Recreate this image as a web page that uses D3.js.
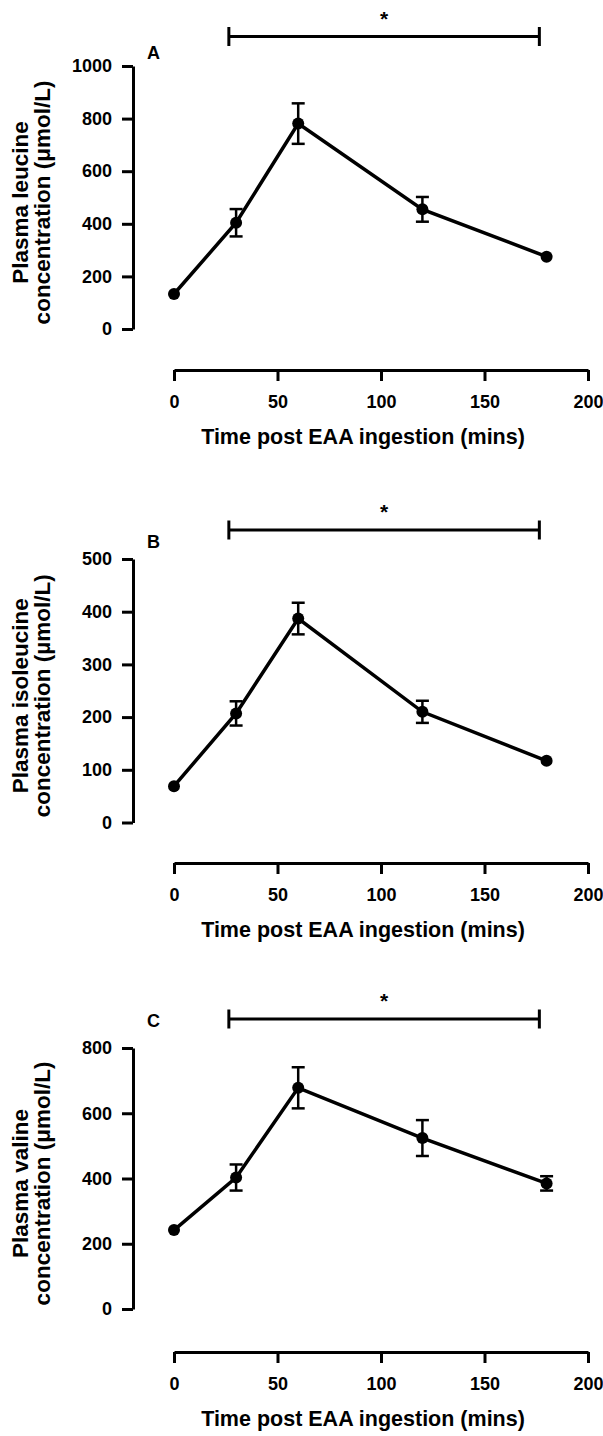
<!DOCTYPE html>
<html>
<head>
<meta charset="utf-8">
<script src="https://cdn.jsdelivr.net/npm/d3@7"></script>
<style>
  html, body { margin: 0; padding: 0; background: #fff; }
  svg { display: block; }
  text { font-family: "Liberation Sans", Arial, sans-serif; font-weight: bold; fill: #000; }
</style>
</head>
<body>
<svg id="chart" width="603" height="1436"></svg>
<script>
// ---------- data ----------
const times = [0, 30, 60, 120, 180];
const xTicks = [0, 50, 100, 150, 200];

const leucineMean = [133, 404, 781, 455, 275];
const leucineSem  = [0, 52, 77, 47, 0];
const leucineTicks = [0, 200, 400, 600, 800, 1000];

const isoleucineMean = [69, 207, 387, 210, 117];
const isoleucineSem  = [0, 23, 30, 21, 0];
const isoleucineTicks = [0, 100, 200, 300, 400, 500];

const valineMean = [242, 403, 678, 524, 385];
const valineSem  = [0, 40, 63, 55, 22];
const valineTicks = [0, 200, 400, 600, 800];

const panelLetters = ["A", "B", "C"];
const yLabelLine1 = ["Plasma leucine", "Plasma isoleucine", "Plasma valine"];
const yLabelLine2 = ["concentration (\u03bcmol/L)", "concentration (\u00b5mol/L)", "concentration (\u03bcmol/L)"];
const xTitle = "Time post EAA ingestion (mins)";
const sigSpan = [26.5, 176.5];   // time span covered by significance bar
const sigMark = "*";

// ---------- layout ----------
const layout = [
  { top: 66,  zero: 329,   xAxisY: 370,  sigY: 36.5, letterY: 59 },
  { top: 559, zero: 822.5, xAxisY: 863,  sigY: 530,  letterY: 548 },
  { top: 1048, zero: 1309, xAxisY: 1352, sigY: 1019, letterY: 1027 }
];
const panels = [
  { mean: leucineMean, sem: leucineSem, ticks: leucineTicks },
  { mean: isoleucineMean, sem: isoleucineSem, ticks: isoleucineTicks },
  { mean: valineMean, sem: valineSem, ticks: valineTicks }
];

const svg = d3.select("#chart");
const x = d3.scaleLinear().domain([0, 200]).range([174, 588]);
const yAxisX = 133;
const FONT = "'Liberation Sans', Arial, sans-serif";

panels.forEach((p, i) => {
  const L = layout[i];
  const g = svg.append("g");
  const yMax = p.ticks[p.ticks.length - 1];
  const y = d3.scaleLinear().domain([0, yMax]).range([L.zero, L.top]);

  // y axis
  const yAx = g.append("g").attr("transform", `translate(${yAxisX},0)`)
    .call(d3.axisLeft(y).tickValues(p.ticks).tickFormat(d3.format("d"))
      .tickSize(11).tickSizeOuter(0).tickPadding(10));
  yAx.selectAll("path.domain").attr("stroke", "#000").attr("stroke-width", 3);
  yAx.selectAll(".tick line").attr("stroke", "#000").attr("stroke-width", 3);
  yAx.selectAll(".tick text").style("font-size", "18px").style("font-weight", "bold")
    .style("font-family", FONT);

  // x axis
  const xAx = g.append("g").attr("transform", `translate(0,${L.xAxisY})`)
    .call(d3.axisBottom(x).tickValues(xTicks).tickFormat(d3.format("d"))
      .tickSize(11).tickSizeOuter(0).tickPadding(14));
  xAx.selectAll("path.domain").attr("stroke", "#000").attr("stroke-width", 3);
  xAx.selectAll(".tick line").attr("stroke", "#000").attr("stroke-width", 3);
  xAx.selectAll(".tick text").style("font-size", "18px").style("font-weight", "bold")
    .style("font-family", FONT);

  // x title
  g.append("text").attr("x", 363).attr("y", L.xAxisY + 74)
    .attr("text-anchor", "middle").style("font-size", "21.5px").text(xTitle);

  // y title (two lines)
  const yc = (L.zero + L.top) / 2 + 5;
  g.append("text").attr("transform", `translate(28,${yc}) rotate(-90)`)
    .attr("text-anchor", "middle").style("font-size", "22.5px").text(yLabelLine1[i]);
  g.append("text").attr("transform", `translate(50,${yc}) rotate(-90)`)
    .attr("text-anchor", "middle").style("font-size", "22.5px").text(yLabelLine2[i]);

  // panel letter
  g.append("text").attr("x", 147).attr("y", L.letterY).style("font-size", "18px").text(panelLetters[i]);

  // significance bar
  const sx0 = x(sigSpan[0]), sx1 = x(sigSpan[1]);
  g.append("line").attr("x1", sx0).attr("x2", sx1).attr("y1", L.sigY).attr("y2", L.sigY)
    .attr("stroke", "#000").attr("stroke-width", 3);
  [sx0, sx1].forEach(sx => g.append("line").attr("x1", sx).attr("x2", sx)
    .attr("y1", L.sigY - 9.5).attr("y2", L.sigY + 9.5).attr("stroke", "#000").attr("stroke-width", 3));
  g.append("text").attr("x", (sx0 + sx1) / 2).attr("y", L.sigY - 11)
    .attr("text-anchor", "middle").style("font-size", "21px").text(sigMark);

  const pts = times.map((t, k) => ({ t, m: p.mean[k], s: p.sem[k] }));

  // error bars
  pts.filter(d => d.s > 0).forEach(d => {
    const cx = x(d.t);
    g.append("line").attr("x1", cx).attr("x2", cx).attr("y1", y(d.m + d.s)).attr("y2", y(d.m - d.s))
      .attr("stroke", "#000").attr("stroke-width", 2.5);
    [d.m + d.s, d.m - d.s].forEach(v => g.append("line").attr("x1", cx - 6.5).attr("x2", cx + 6.5)
      .attr("y1", y(v)).attr("y2", y(v)).attr("stroke", "#000").attr("stroke-width", 2.5));
  });

  // line
  g.append("path").datum(pts)
    .attr("d", d3.line().x(d => x(d.t)).y(d => y(d.m)))
    .attr("fill", "none").attr("stroke", "#000").attr("stroke-width", 3.5);

  // points
  g.selectAll("circle.pt").data(pts).enter().append("circle")
    .attr("class", "pt").attr("cx", d => x(d.t)).attr("cy", d => y(d.m)).attr("r", 6).attr("fill", "#000");
});
</script>
</body>
</html>
